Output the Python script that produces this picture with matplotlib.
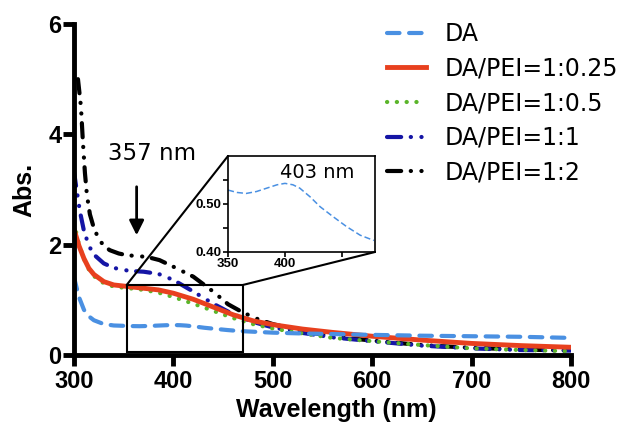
import numpy as np
import matplotlib
matplotlib.use("Agg")
import matplotlib.pyplot as plt
from matplotlib.patches import Rectangle, ConnectionPatch

# UV-vis spectra (wavelength in nm, absorbance)
wl_da = [300, 305, 310, 315, 320, 330, 340, 350, 358, 366, 375, 384, 393, 400,
         407, 413, 422, 431, 442, 454, 466, 478, 500, 530, 560, 600, 650, 700, 750, 800]
abs_da = [1.41, 1.05, 0.82, 0.70, 0.63, 0.56, 0.535, 0.529, 0.524, 0.522, 0.526, 0.533, 0.540, 0.543,
          0.540, 0.533, 0.515, 0.494, 0.474, 0.453, 0.435, 0.424, 0.405, 0.39, 0.38, 0.365, 0.35, 0.34, 0.33, 0.31]

wl_025 = [300, 305, 310, 315, 320, 330, 340, 350, 360, 370, 385, 400, 420, 440,
          460, 480, 500, 530, 560, 600, 650, 700, 750, 800]
abs_025 = [2.28, 1.98, 1.75, 1.57, 1.46, 1.33, 1.27, 1.25, 1.23, 1.21, 1.18, 1.12, 1.01, 0.87,
           0.73, 0.62, 0.55, 0.47, 0.41, 0.34, 0.27, 0.21, 0.17, 0.14]

wl_05 = [300, 305, 310, 315, 320, 330, 340, 350, 360, 370, 385, 400, 420, 440,
         460, 480, 500, 530, 560, 600, 650, 700, 750, 800]
abs_05 = [2.40, 2.00, 1.74, 1.55, 1.43, 1.30, 1.24, 1.22, 1.20, 1.18, 1.13, 1.05, 0.93, 0.80,
          0.67, 0.56, 0.48, 0.39, 0.31, 0.25, 0.18, 0.12, 0.09, 0.07]

wl_1 = [300, 303, 306, 310, 315, 320, 330, 340, 350, 360, 370, 385, 400, 420, 440,
        460, 480, 500, 530, 560, 600, 650, 700, 750, 800]
abs_1 = [3.32, 2.95, 2.60, 2.25, 1.98, 1.82, 1.66, 1.58, 1.54, 1.52, 1.51, 1.47, 1.36, 1.15, 0.93,
         0.74, 0.60, 0.50, 0.40, 0.32, 0.25, 0.17, 0.12, 0.09, 0.08]

wl_2 = [304, 307, 309, 311, 313, 316, 320, 325, 330, 336, 345, 353, 365, 373, 386, 400,
        420, 440, 455, 470, 485, 500, 530, 560, 600, 650, 700, 750, 800]
abs_2 = [5.00, 4.50, 3.85, 3.30, 2.90, 2.55, 2.30, 2.10, 1.98, 1.90, 1.84, 1.81, 1.79, 1.78, 1.72, 1.60,
         1.42, 1.15, 0.92, 0.77, 0.65, 0.56, 0.43, 0.34, 0.26, 0.18, 0.13, 0.10, 0.08]

labels = ["DA", "DA/PEI=1:0.25", "DA/PEI=1:0.5", "DA/PEI=1:1", "DA/PEI=1:2"]
x_ticks = [300, 400, 500, 600, 700, 800]
y_ticks = [0, 2, 4, 6]
zoom_x = [353, 470]
zoom_y = [0.05, 1.27]
inset_xticks = [350, 400]
inset_yticks = [0.40, 0.50]
peak_main = 357
peak_inset = 403

c_da = "#4a90e2"
c_025 = "#e8401e"
c_05 = "#5bb52a"
c_1 = "#1515a5"
c_2 = "#000000"

tick_font = dict(family="Liberation Sans", weight="bold")

fig = plt.figure(figsize=(6.23, 4.25), dpi=100)
ax = fig.add_axes([74 / 623, 1 - 355 / 425, 497 / 623, 331 / 425])

dashdotdot = (0, (3.4, 2.3, 0.05, 2.5, 0.05, 2.3))
l2, = ax.plot(wl_2, abs_2, color=c_2, lw=3, ls=dashdotdot, dash_capstyle="round")
l1, = ax.plot(wl_1, abs_1, color=c_1, lw=3, ls=dashdotdot, dash_capstyle="round")
l05, = ax.plot(wl_05, abs_05, color=c_05, lw=3, ls=(0, (0.05, 2.3)), dash_capstyle="round")
l025, = ax.plot(wl_025, abs_025, color=c_025, lw=3.5)
lda, = ax.plot(wl_da, abs_da, color=c_da, lw=3, ls=(0, (3.0, 2.3)), dash_capstyle="round")

ax.set_xlim(300, 800)
ax.set_ylim(0, 6)
ax.set_xticks(x_ticks)
ax.set_yticks(y_ticks)
for s in ["top", "right"]:
    ax.spines[s].set_visible(False)
for s in ["left", "bottom"]:
    ax.spines[s].set_linewidth(3.5)
ax.tick_params(direction="out", length=8, width=3.5)
ax.tick_params(axis="y", pad=1)
ax.tick_params(axis="x", pad=3)
for lab in ax.get_xticklabels() + ax.get_yticklabels():
    lab.set_fontproperties(tick_font)
    lab.set_fontsize(17)

ax.set_xlabel("Wavelength (nm)", fontsize=18, **tick_font)
ax.set_ylabel("Abs.", fontsize=18, **tick_font)
ax.xaxis.set_label_coords(0.527, -0.13)
ax.yaxis.set_label_coords(-0.075, 0.5)

# zoom window over the 350-470 nm shoulder
ax.add_patch(Rectangle((zoom_x[0], zoom_y[0]), zoom_x[1] - zoom_x[0], zoom_y[1] - zoom_y[0],
                       fill=False, lw=1.5, ec="black", zorder=6))

ax.annotate("", xy=(363, 2.12), xytext=(363, 3.1),
            arrowprops=dict(arrowstyle="-|>", lw=2, color="black", mutation_scale=22))
ax.text(378.5, 3.66, f"{peak_main} nm", ha="center", va="center", fontsize=16.5)

# inset: DA spectrum around 403 nm
ins = fig.add_axes([228 / 623, 1 - 252 / 425, 147 / 623, 96 / 425])
wl_arr = np.array(wl_da)
sel = (wl_arr >= 348) & (wl_arr <= 480)
ins.plot(wl_arr[sel], np.array(abs_da)[sel], color=c_da, lw=1.1, ls=(0, (4, 2)))
ins.set_xlim(350, 479)
ins.set_ylim(0.40, 0.60)
ins.set_xticks(inset_xticks)
ins.set_xticks([450], minor=True)
ins.set_yticks(inset_yticks)
ins.set_yticks([0.45, 0.55], minor=True)
ins.set_yticklabels([f"{v:.2f}" for v in inset_yticks])
for s in ins.spines.values():
    s.set_linewidth(1.2)
ins.tick_params(which="both", direction="out", length=3.5, width=1.2, pad=1)
for lab in ins.get_xticklabels() + ins.get_yticklabels():
    lab.set_fontproperties(tick_font)
    lab.set_fontsize(9.5)
ins.text(0.605, 0.833, f"{peak_inset} nm", transform=ins.transAxes,
         ha="center", va="center", fontsize=14)

for xa, xb in [((zoom_x[0], zoom_y[1]), (0, 1)), ((zoom_x[1], zoom_y[1]), (1, 0))]:
    con = ConnectionPatch(xyA=xa, coordsA=ax.transData, xyB=xb, coordsB=ins.transAxes,
                          lw=1.5, color="black")
    fig.add_artist(con)

fig.legend([lda, l025, l05, l1, l2], labels, loc="upper left",
           bbox_to_anchor=(387 / 623, 1 - 22 / 425), bbox_transform=fig.transFigure,
           frameon=False, fontsize=17, handlelength=1.65, handletextpad=0.8,
           labelspacing=0.45, borderpad=0, borderaxespad=0)

fig.savefig("out.png", dpi=100)
